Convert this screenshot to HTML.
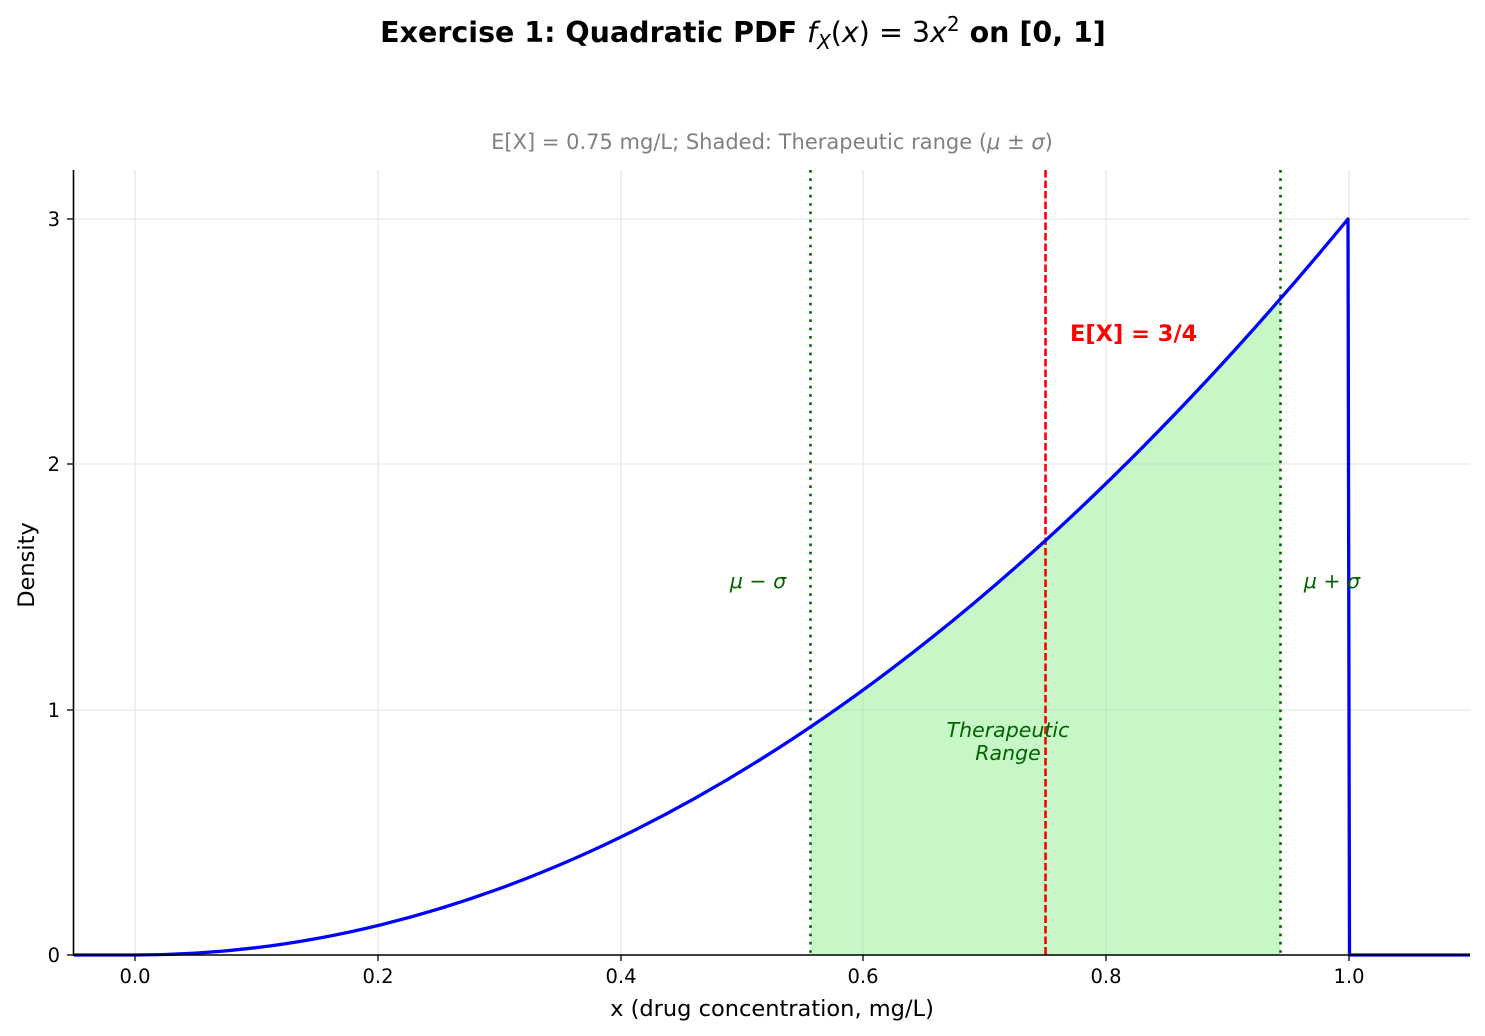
<!DOCTYPE html>
<html><head><meta charset="utf-8"><style>
body{margin:0;background:#fff;}
svg{display:block;font-family:"DejaVu Sans","Liberation Sans",sans-serif;}
</style></head><body>
<svg width="1485" height="1036" viewBox="0 0 1485 1036" xmlns="http://www.w3.org/2000/svg">
<rect width="1485" height="1036" fill="#fff"/>
<text x="743" y="42" text-anchor="middle" font-size="28.5" font-weight="bold">Exercise 1: Quadratic PDF <tspan font-style="italic" font-weight="normal">f</tspan><tspan font-style="italic" font-weight="normal" font-size="20" dy="7">X</tspan><tspan font-weight="normal" dy="-7">(</tspan><tspan font-style="italic" font-weight="normal">x</tspan><tspan font-weight="normal">) = 3</tspan><tspan font-style="italic" font-weight="normal">x</tspan><tspan font-weight="normal" font-size="20" dy="-11">2</tspan><tspan dy="11"> on [0, 1]</tspan></text>
<text x="772" y="149" text-anchor="middle" font-size="21" fill="#808080">E[X] = 0.75 mg/L; Shaded: Therapeutic range (<tspan font-style="italic">μ</tspan> ± <tspan font-style="italic">σ</tspan>)</text>
<g stroke="#e6e6e6" stroke-width="1.3">
<line x1="135" y1="170" x2="135" y2="955"/><line x1="378" y1="170" x2="378" y2="955"/><line x1="621" y1="170" x2="621" y2="955"/><line x1="863" y1="170" x2="863" y2="955"/><line x1="1106" y1="170" x2="1106" y2="955"/><line x1="1349" y1="170" x2="1349" y2="955"/>
<line x1="74" y1="219" x2="1470" y2="219"/><line x1="74" y1="464" x2="1470" y2="464"/><line x1="74" y1="710" x2="1470" y2="710"/>
</g>
<path d="M810.5,955 L810.5,727.2 Q1045.5,568.6 1280.5,299.7 L1280.5,955 Z" fill="#90ee90" fill-opacity="0.5"/>
<line x1="810.5" y1="170" x2="810.5" y2="955" stroke="#006400" stroke-width="2.6" stroke-dasharray="2.6 5.7"/>
<line x1="1280.5" y1="170" x2="1280.5" y2="955" stroke="#006400" stroke-width="2.6" stroke-dasharray="2.6 5.7"/>
<line x1="1045.5" y1="170" x2="1045.5" y2="955" stroke="#ff0000" stroke-width="2.6" stroke-dasharray="7.5 3"/>
<path d="M74,955 L135,955 Q742,955 1348,219 L1349.5,955 L1470,955" fill="none" stroke="#0000ff" stroke-width="3.3" stroke-linejoin="round"/>
<line x1="73.5" y1="170" x2="73.5" y2="956" stroke="#000" stroke-width="1.6"/>
<line x1="73" y1="955" x2="1470" y2="955" stroke="#000" stroke-width="1.6"/>
<g stroke="#000" stroke-width="1.3">
<line x1="135" y1="955" x2="135" y2="961"/><line x1="378" y1="955" x2="378" y2="961"/><line x1="621" y1="955" x2="621" y2="961"/><line x1="863" y1="955" x2="863" y2="961"/><line x1="1106" y1="955" x2="1106" y2="961"/><line x1="1349" y1="955" x2="1349" y2="961"/>
<line x1="67" y1="955" x2="73" y2="955"/><line x1="67" y1="710" x2="73" y2="710"/><line x1="67" y1="464" x2="73" y2="464"/><line x1="67" y1="219" x2="73" y2="219"/>
</g>
<g font-size="19.5" fill="#000" text-anchor="middle">
<text x="135" y="983">0.0</text><text x="378" y="983">0.2</text><text x="621" y="983">0.4</text><text x="863" y="983">0.6</text><text x="1106" y="983">0.8</text><text x="1349" y="983">1.0</text>
</g>
<g font-size="19.5" fill="#000" text-anchor="end">
<text x="60" y="962">0</text><text x="60" y="717">1</text><text x="60" y="471">2</text><text x="60" y="226">3</text>
</g>
<text x="772" y="1016" text-anchor="middle" font-size="22.5">x (drug concentration, mg/L)</text>
<text transform="translate(34,565) rotate(-90)" text-anchor="middle" font-size="22.5">Density</text>
<text x="1070" y="341" font-size="22.5" font-weight="bold" fill="#ff0000">E[X] = 3/4</text>
<text x="758" y="588" text-anchor="middle" font-size="20.5" font-style="italic" fill="#006400">μ − σ</text>
<text x="1332" y="588" text-anchor="middle" font-size="20.5" font-style="italic" fill="#006400">μ + σ</text>
<text x="1008" y="737" text-anchor="middle" font-size="20.5" font-style="italic" fill="#006400">Therapeutic</text>
<text x="1008" y="760" text-anchor="middle" font-size="20.5" font-style="italic" fill="#006400">Range</text>
</svg>
</body></html>
